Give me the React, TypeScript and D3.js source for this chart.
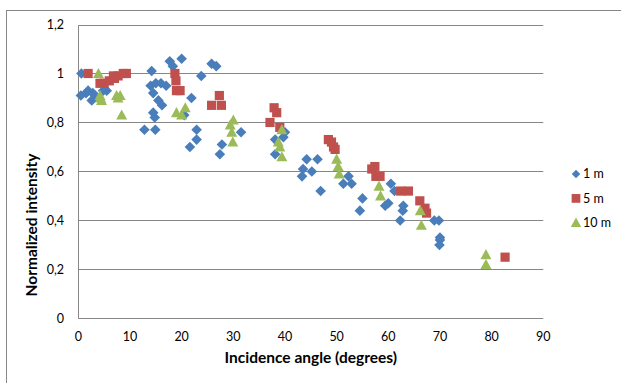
import React from "react";
import * as d3 from "d3";

// 1 m series: [incidence angle, normalized intensity]
const series1m: [number, number][] = [
  [0.6, 1.0], [0.5, 0.91], [1.5, 0.92], [1.9, 0.93], [2.6, 0.89], [2.8, 0.92], [3.2, 0.91],
  [4.8, 0.93], [5.5, 0.93], [14.2, 1.01], [14.0, 0.95], [15.0, 0.96], [16.0, 0.96], [17.0, 0.95],
  [14.5, 0.92], [15.5, 0.89], [16.2, 0.87], [14.5, 0.84], [14.8, 0.82], [12.8, 0.77], [14.9, 0.77],
  [17.7, 1.05], [20.0, 1.06], [18.3, 1.03], [21.9, 0.9], [20.5, 0.83], [23.8, 0.99], [25.8, 1.04],
  [26.7, 1.03], [22.9, 0.77], [22.9, 0.73], [21.6, 0.7], [27.8, 0.71], [27.4, 0.67], [31.5, 0.76],
  [38.1, 0.73], [39.7, 0.74], [40.0, 0.76], [38.1, 0.67], [44.2, 0.65], [46.3, 0.65], [43.5, 0.61],
  [45.2, 0.6], [43.3, 0.58], [46.9, 0.52], [52.3, 0.58], [51.3, 0.55], [52.9, 0.55], [55.0, 0.49],
  [54.5, 0.44], [60.5, 0.55], [61.2, 0.52], [59.4, 0.46], [60.0, 0.47], [62.9, 0.46], [62.8, 0.44],
  [62.3, 0.4], [68.9, 0.4], [69.8, 0.4], [70.0, 0.33], [70.0, 0.32], [69.9, 0.3],
];

// 5 m series
const series5m: [number, number][] = [
  [1.9, 1.0], [4.2, 0.96], [5.0, 0.96], [6.0, 0.97], [7.0, 0.98], [6.8, 0.99], [7.7, 0.99],
  [8.7, 1.0], [9.3, 1.0], [18.7, 1.0], [18.9, 0.97], [19.0, 0.93], [19.7, 0.93], [25.8, 0.87],
  [27.3, 0.91], [27.7, 0.87], [37.9, 0.86], [38.4, 0.84], [37.1, 0.8], [39.0, 0.78], [48.4, 0.73],
  [49.0, 0.72], [49.4, 0.7], [49.7, 0.69], [56.8, 0.61], [57.4, 0.62], [57.6, 0.58], [58.4, 0.58],
  [62.4, 0.52], [63.9, 0.52], [66.1, 0.48], [67.1, 0.45], [67.4, 0.43], [82.6, 0.25],
];

// 10 m series
const series10m: [number, number][] = [
  [3.9, 1.0], [4.2, 0.91], [4.5, 0.89], [4.3, 0.9], [7.4, 0.91], [7.7, 0.9], [8.1, 0.91],
  [8.4, 0.83], [19.0, 0.84], [20.0, 0.83], [20.7, 0.86], [29.4, 0.79], [30.0, 0.81], [29.7, 0.76],
  [29.9, 0.72], [39.4, 0.77], [38.7, 0.72], [39.0, 0.7], [39.4, 0.66], [50.0, 0.65], [50.3, 0.62],
  [50.5, 0.59], [58.2, 0.54], [58.5, 0.5], [66.2, 0.44], [66.4, 0.38], [78.9, 0.26], [78.9, 0.22],
];

const seriesNames = ["1 m", "5 m", "10 m"];
const xTicks = [0, 10, 20, 30, 40, 50, 60, 70, 80, 90];
const yTicks = [0, 0.2, 0.4, 0.6, 0.8, 1, 1.2];
const xTitle = "Incidence angle (degrees)";
const yTitle = "Normalized intensity";

const W = 621;
const H = 383;
const FONT = "Lato, 'Open Sans', sans-serif";
const COLORS = ["#4A7EBB", "#C0504D", "#9BBB59"];
const GRID = "#868686";

const x = d3.scaleLinear().domain([0, 90]).range([78.3, 543.3]);
const y = d3.scaleLinear().domain([0, 1.2]).range([318.4, 24.5]);

const fmtY = (v: number) => d3.format("~g")(v).replace(".", ",");

function markerPath(kind: number): string {
  const p = d3.path();
  if (kind === 0) {
    const r = 5.3;
    p.moveTo(0, -r);
    p.lineTo(r, 0);
    p.lineTo(0, r);
    p.lineTo(-r, 0);
    p.closePath();
  } else if (kind === 1) {
    const s = 4.6;
    p.rect(-s, -s, 2 * s, 2 * s);
  } else {
    const hw = 5.5;
    p.moveTo(0, -5.6);
    p.lineTo(hw, 4.5);
    p.lineTo(-hw, 4.5);
    p.closePath();
  }
  return p.toString();
}

export default function App() {
  const all = [series1m, series5m, series10m];
  return (
    <div style={{ position: "absolute", left: 0, top: 0 }}>
      <svg width={W} height={H} style={{ display: "block" }}>
        <rect x={0} y={0} width={W} height={H} fill="#fff" />
        <rect x={6.5} y={10.5} width={W + 50} height={H + 50} fill="none" stroke={GRID} strokeWidth={1} />
        {/* gridlines */}
        {yTicks.filter((t) => t > 0).map((t) => (
          <line key={t} x1={x(0)} x2={x(90)} y1={Math.round(y(t)) + 0.5} y2={Math.round(y(t)) + 0.5} stroke={GRID} strokeWidth={1} />
        ))}
        {/* axes */}
        <line x1={Math.round(x(0)) + 0.5} x2={Math.round(x(0)) + 0.5} y1={Math.round(y(1.2)) + 0.5} y2={Math.round(y(0)) + 0.5} stroke={GRID} />
        <line x1={x(0)} x2={x(90)} y1={Math.round(y(0)) + 0.5} y2={Math.round(y(0)) + 0.5} stroke={GRID} />
        {/* y tick labels */}
        {yTicks.map((t) => (
          <text key={t} x={64} y={y(t)} dy="0.35em" textAnchor="end" fontFamily={FONT} fontSize={12.5} fill="#000">
            {fmtY(t)}
          </text>
        ))}
        {/* x tick labels */}
        {xTicks.map((t) => (
          <text key={t} x={x(t)} y={337} dy="0.35em" textAnchor="middle" fontFamily={FONT} fontSize={12.5} fill="#000">
            {t}
          </text>
        ))}
        {/* titles */}
        <text x={(x(0) + x(90)) / 2} y={358} dy="0.35em" textAnchor="middle" fontFamily={FONT} fontSize={15.5} fontWeight="bold" fill="#000">
          {xTitle}
        </text>
        <text transform={`translate(32,225) rotate(-90)`} dy="0.35em" textAnchor="middle" fontFamily={FONT} fontSize={15.5} fontWeight="bold" fill="#000">
          {yTitle}
        </text>
        {/* points */}
        {all.map((s, si) => (
          <g key={si} fill={COLORS[si]}>
            {s.map(([a, v], i) => (
              <path key={i} d={markerPath(si)} transform={`translate(${x(a)},${y(v)})`} />
            ))}
          </g>
        ))}
        {/* legend */}
        {seriesNames.map((n, i) => (
          <g key={n} transform={`translate(576,${174 + i * 24.4})`}>
            <path d={markerPath(i)} fill={COLORS[i]} transform={i === 0 ? "scale(0.8)" : "scale(0.95)"} />
            <text x={7} dy="0.35em" fontFamily={FONT} fontSize={12.5} fill="#000">
              {n}
            </text>
          </g>
        ))}
      </svg>
    </div>
  );
}
